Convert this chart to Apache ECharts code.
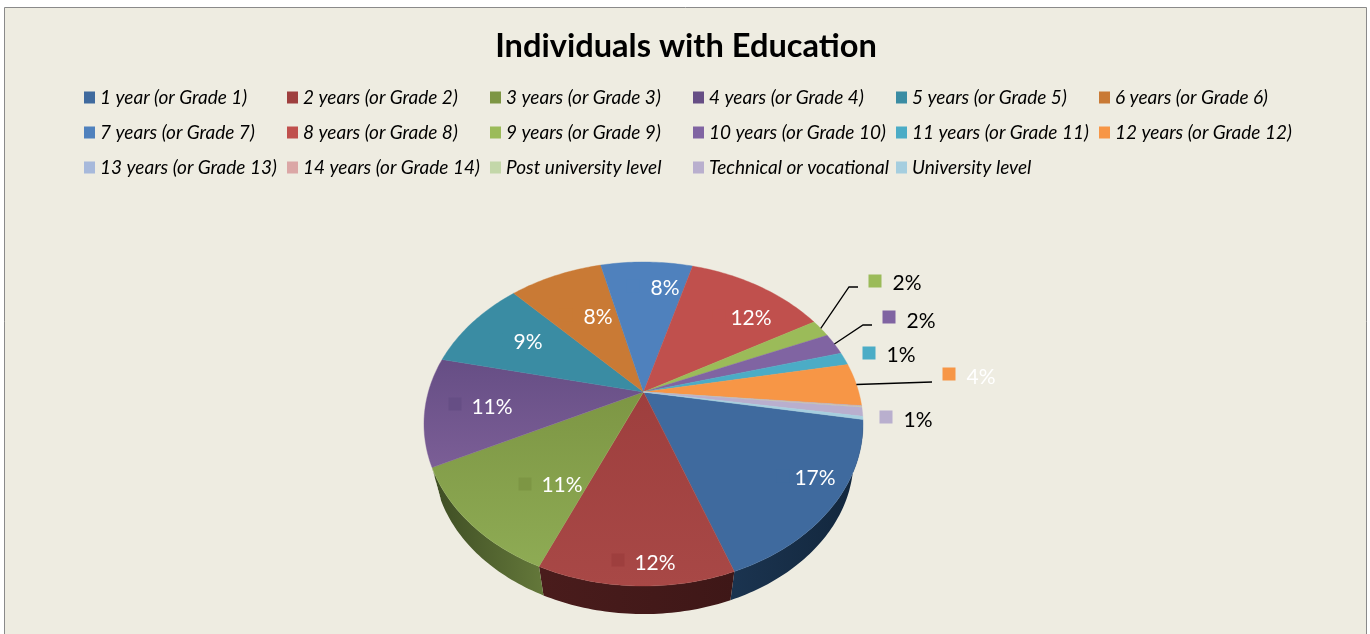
<!DOCTYPE html>
<html>
<head>
<meta charset="utf-8">
<title>Individuals with Education</title>
<style>
  html, body { margin: 0; padding: 0; background: #fff; }
  #main { width: 1370px; height: 634px; }
</style>
<script src="https://cdn.jsdelivr.net/npm/echarts@6/dist/echarts.min.js"></script>
</head>
<body>
<div id="main"></div>
<script>
const categories = [
    '1 year (or Grade 1)', '2 years (or Grade 2)', '3 years (or Grade 3)',
    '4 years (or Grade 4)', '5 years (or Grade 5)', '6 years (or Grade 6)',
    '7 years (or Grade 7)', '8 years (or Grade 8)', '9 years (or Grade 9)',
    '10 years (or Grade 10)', '11 years (or Grade 11)', '12 years (or Grade 12)',
    '13 years (or Grade 13)', '14 years (or Grade 14)', 'Post university level',
    'Technical or vocational', 'University level'
];
// percent of individuals
const shares = [16.7, 12.1, 11.2, 10.8, 9.4, 8.3, 8.2, 12.4, 1.8, 2.2, 1.3, 4.3, 0.05, 0.05, 0.05, 0.9, 0.3];

const legendColors = [
    '#3F6A9E', '#9E3F3E', '#7D9644', '#664E85', '#3A8CA3', '#C97A35',
    '#4F81BD', '#C0504D', '#9BBB59', '#8064A2', '#4BACC6', '#F79646',
    '#A7B9DB', '#DBA7A6', '#C3D7A9', '#B9AFCE', '#A5CEDF'
];
// slices 2-4 get a little lighter towards the bottom
const faceLower = { 1: '#A84846', 2: '#8EAB54', 3: '#7B5E96' };
const wallColors = { 0: ['#1B3450', '#12263C'], 1: ['#4A1C1C', '#3E1717'], 2: ['#64783A', '#3E4D24'] };

// where each value label sits: key square, text and optional leader elbow
const labelSpots = {
    0: { key: [783, 476], text: [815, 478] },
    1: { key: [618, 560], text: [655, 563] },
    2: { key: [525, 484], text: [562, 485] },
    3: { key: [455, 404], text: [492, 407] },
    4: { key: [496, 340], text: [528, 342] },
    5: { key: [566, 315], text: [598, 317] },
    6: { key: [633, 286], text: [665, 288] },
    7: { key: [719, 316], text: [751, 318] },
    8: { key: [875, 281], text: [907, 283], leader: [[849, 287], [858, 287]] },
    9: { key: [889, 317], text: [921, 321], leader: [[863, 325], [872, 325]] },
    10: { key: [869, 353], text: [901, 355] },
    11: { key: [949, 374], text: [981, 377], leader: [[932, 382]], white: true },
    15: { key: [886, 417], text: [918, 420] }
};

// perspective disc: apex is the projected centre of the circle
const apex = [643.5, 392];
const ax = 215.2, ay = 155.7, tilt = 0.1975;
const wallScale = 0.957, wallDrop = 36.4;
const startDeg = 9.8;

const total = shares.reduce((a, b) => a + b, 0);
const starts = [];
shares.reduce((sum, v, i) => { starts[i] = sum; return sum + v; }, 0);

function toDeg(share) {
    return startDeg + share / total * 360;
}

function rimPoint(deg, scale, drop) {
    const t = deg * Math.PI / 180;
    const u = Math.cos(t), v = Math.sin(t);
    const w = 1 - tilt * v;
    return [apex[0] + scale * ax * u / w, apex[1] + drop + scale * ay * v / w];
}

function arc(from, to, scale, drop) {
    const n = Math.max(2, Math.ceil(Math.abs(to - from)));
    const pts = [];
    for (let i = 0; i <= n; i++) {
        pts.push(rimPoint(from + (to - from) * i / n, scale, drop));
    }
    return pts;
}

function renderFace(idx, api) {
    const from = toDeg(starts[idx]);
    const to = from + api.value(0) / total * 360;
    const low = faceLower[idx];
    const fill = low
        ? new echarts.graphic.LinearGradient(0, 0, 0, 1, [
            { offset: 0, color: legendColors[idx] },
            { offset: 1, color: low }
        ])
        : legendColors[idx];
    return {
        type: 'polygon',
        shape: { points: [apex].concat(arc(from, to, 1, 0)) },
        style: { fill: fill, stroke: low || legendColors[idx], lineWidth: 0.4 }
    };
}

function renderWall(params, api) {
    const idx = api.value(0);
    const from = toDeg(starts[idx]);
    const to = from + shares[idx] / total * 360;
    const top = arc(from, to, 1, 0);
    const bottom = arc(from, to, wallScale, wallDrop).reverse();
    const c = wallColors[idx] || ['#EEECE1', '#EEECE1'];
    return {
        type: 'polygon',
        shape: { points: top.concat(bottom) },
        style: {
            fill: new echarts.graphic.LinearGradient(0, 0, 1, 0, [
                { offset: 0, color: idx === 2 ? c[1] : c[0] },
                { offset: 1, color: idx === 2 ? c[0] : c[1] }
            ])
        }
    };
}

function renderLabel(params, api) {
    const idx = api.value(0);
    const spot = labelSpots[idx];
    if (!spot) return null;
    const children = [];
    if (spot.leader) {
        const mid = toDeg(starts[idx] + shares[idx] / 2);
        children.push({
            type: 'polyline',
            shape: { points: [rimPoint(mid, 1, 0)].concat(spot.leader) },
            style: { stroke: '#000', lineWidth: 1.3, fill: 'none' }
        });
    }
    children.push({
        type: 'rect',
        shape: { x: spot.key[0] - 6.5, y: spot.key[1] - 6.5, width: 13, height: 13 },
        style: { fill: legendColors[idx] }
    });
    const outside = spot.text[0] > 870;
    children.push({
        type: 'text',
        style: {
            text: Math.round(shares[idx]) + '%',
            x: spot.text[0],
            y: spot.text[1],
            align: 'center',
            verticalAlign: 'middle',
            font: '21px Lato',
            fill: outside && !spot.white ? '#000' : '#fff'
        }
    });
    return { type: 'group', children: children };
}

const chart = echarts.init(document.getElementById('main'), null, { renderer: 'canvas' });

const faceSeries = categories.map((name, idx) => ({
    type: 'custom',
    name: name,
    coordinateSystem: 'none',
    z: 3,
    silent: true,
    itemStyle: { color: legendColors[idx] },
    data: [[shares[idx]]],
    renderItem: (params, api) => renderFace(idx, api)
}));

chart.setOption({
    animation: false,
    backgroundColor: '#fff',
    graphic: [{
        type: 'rect',
        z: -1,
        shape: { x: 4.5, y: 7.5, width: 1362, height: 640 },
        style: { fill: '#EEECE1', stroke: '#8A8A8A', lineWidth: 1 }
    }],
    title: {
        text: 'Individuals with Education',
        left: 681,
        top: 25,
        textAlign: 'center',
        textStyle: { fontFamily: 'Lato', fontWeight: 'bold', fontSize: 32.6, color: '#000' }
    },
    legend: {
        data: categories,
        left: 84,
        top: 80,
        width: 1240,
        itemWidth: 11,
        itemHeight: 12,
        itemGap: 0,
        padding: 0,
        icon: 'rect',
        selectedMode: false,
        textStyle: {
            fontFamily: 'Lato',
            fontStyle: 'italic',
            fontSize: 19,
            color: '#000',
            width: 187,
            height: 35,
            lineHeight: 35,
            padding: [0, 0, 0, 0]
        }
    },
    series: [
        {
            type: 'custom',
            name: 'walls',
            coordinateSystem: 'none',
            z: 2,
            silent: true,
            data: categories.map((c, i) => [i]),
            renderItem: renderWall
        }
    ].concat(faceSeries, [
        {
            type: 'custom',
            name: 'labels',
            coordinateSystem: 'none',
            z: 4,
            silent: true,
            data: categories.map((c, i) => [i]),
            renderItem: renderLabel
        }
    ])
});
</script>
</body>
</html>
